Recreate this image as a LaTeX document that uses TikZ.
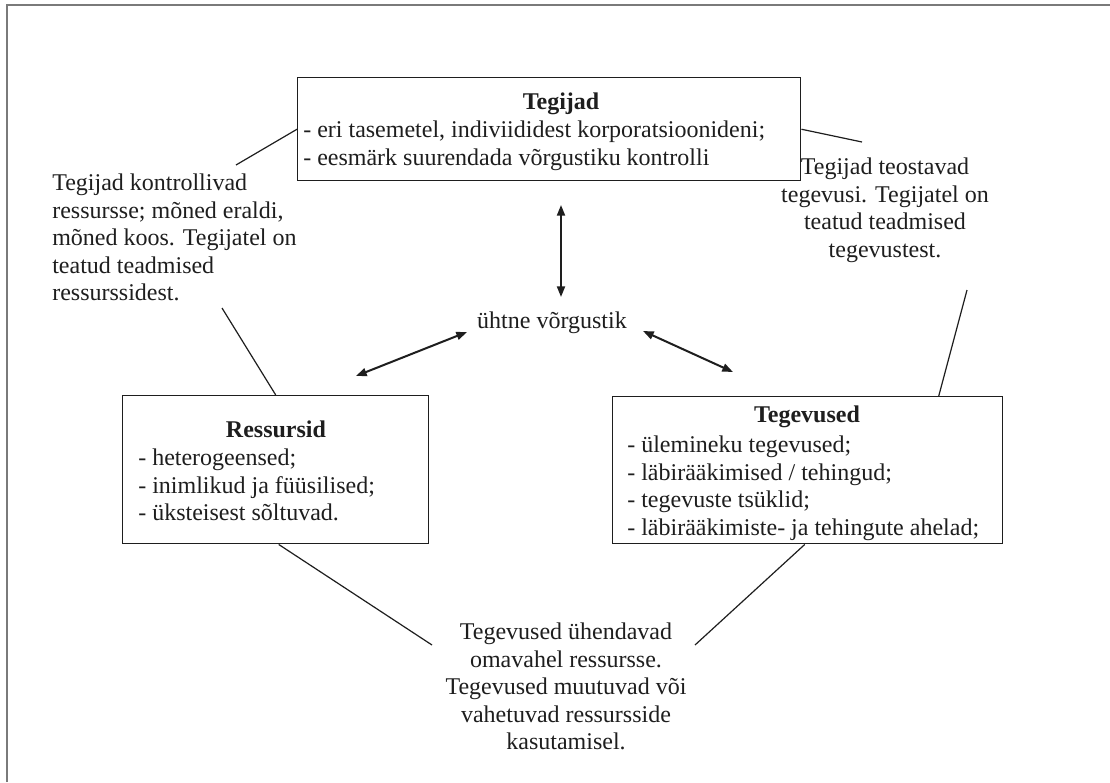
\documentclass[tikz,border=0pt]{standalone}
\usepackage{fontspec}
\setmainfont{Liberation Serif}
\usetikzlibrary{arrows.meta}
\definecolor{ink}{HTML}{1E1E1E}
\definecolor{framegray}{HTML}{7A7A7A}
\begin{document}
\begin{tikzpicture}[x=0.75pt,y=-0.75pt,
  txt/.style={inner sep=0pt, text=ink, font=\fontsize{18}{20.6}\selectfont},
  ttl/.style={inner sep=0pt, text=ink, font=\fontsize{18}{20.6}\selectfont\bfseries},
  boxnode/.style={draw=ink, line width=1.1pt, inner sep=0pt, anchor=north west},
  conn/.style={draw=ink, line width=0.9pt},
  dbl/.style={draw=ink, line width=1.5pt, {Triangle[length=8pt,width=6pt]}-{Triangle[length=8pt,width=6pt]}}]
\useasboundingbox (0,0) rectangle (1110,782);
\fill[white] (0,0) rectangle (1110,782);
\draw[framegray, line width=2pt] (7,782) -- (7,5) -- (1110,5);

% boxes
\node[boxnode, minimum width=377.25pt, minimum height=77.25pt] (tegijad) at (297,77) {};
\node[boxnode, minimum width=229.5pt, minimum height=111pt] (ressursid) at (122,395) {};
\node[boxnode, minimum width=292.5pt, minimum height=110.25pt] (tegevused) at (612,396) {};

% box texts
\node[ttl, anchor=north] (tegijadT) at (561,93) {Tegijad};
\node[txt, anchor=north west, align=left] (tegijadL) at (303,121) {- eri tasemetel, indiviididest korporatsioonideni;\\- eesmärk suurendada võrgustiku kontrolli};

\node[ttl, anchor=north] (ressursidT) at (276,421) {Ressursid};
\node[txt, anchor=north west, align=left] (ressursidL) at (138,449) {- heterogeensed;\\- inimlikud ja füüsilised;\\- üksteisest sõltuvad.};

\node[ttl, anchor=north] (tegevusedT) at (807,406) {Tegevused};
\node[txt, anchor=north west, align=left] (tegevusedL) at (627,436) {- ülemineku tegevused;\\- läbirääkimised / tehingud;\\- tegevuste tsüklid;\\- läbirääkimiste- ja tehingute ahelad;};

% free texts
\node[txt, anchor=north west, align=left] (leftT) at (52,174) {Tegijad kontrollivad\\ressursse; mõned eraldi,\\mõned koos. Tegijatel on\\teatud teadmised\\ressurssidest.};
\node[txt, anchor=north, align=center] (rightT) at (885,158) {Tegijad teostavad\\tegevusi. Tegijatel on\\teatud teadmised\\tegevustest.};
\node[txt, anchor=north, align=center] (bottomT) at (566,623) {Tegevused ühendavad\\omavahel ressursse.\\Tegevused muutuvad või\\vahetuvad ressursside\\kasutamisel.};
\node[txt, anchor=center] (net) at (552,323) {ühtne võrgustik};

% connector end points
\coordinate (c1) at (236,165);
\coordinate (c2) at (862,142);
\coordinate (c3) at (222,308);
\coordinate (c4) at (967,290);
\coordinate (c5) at (432,645);
\coordinate (c6) at (695,645);
\coordinate (a1) at (561,205);
\coordinate (a2) at (561,297);
\coordinate (a3) at (467,332);
\coordinate (a4) at (356,376);
\coordinate (a5) at (643,331);
\coordinate (a6) at (733,372);

\draw[conn] (tegijad.west) -- (c1);
\draw[conn] (tegijad.east) -- (c2);
\draw[conn] (c3) -- (ressursid.north);
\draw[conn] (c4) -- ([xshift=98.25pt]tegevused.north);
\draw[conn] ([xshift=2.25pt]ressursid.south) -- (c5);
\draw[conn] ([xshift=-2.25pt]tegevused.south) -- (c6);

\draw[dbl] (a1) -- (a2);
\draw[dbl] (a3) -- (a4);
\draw[dbl] (a5) -- (a6);
\end{tikzpicture}
\end{document}
